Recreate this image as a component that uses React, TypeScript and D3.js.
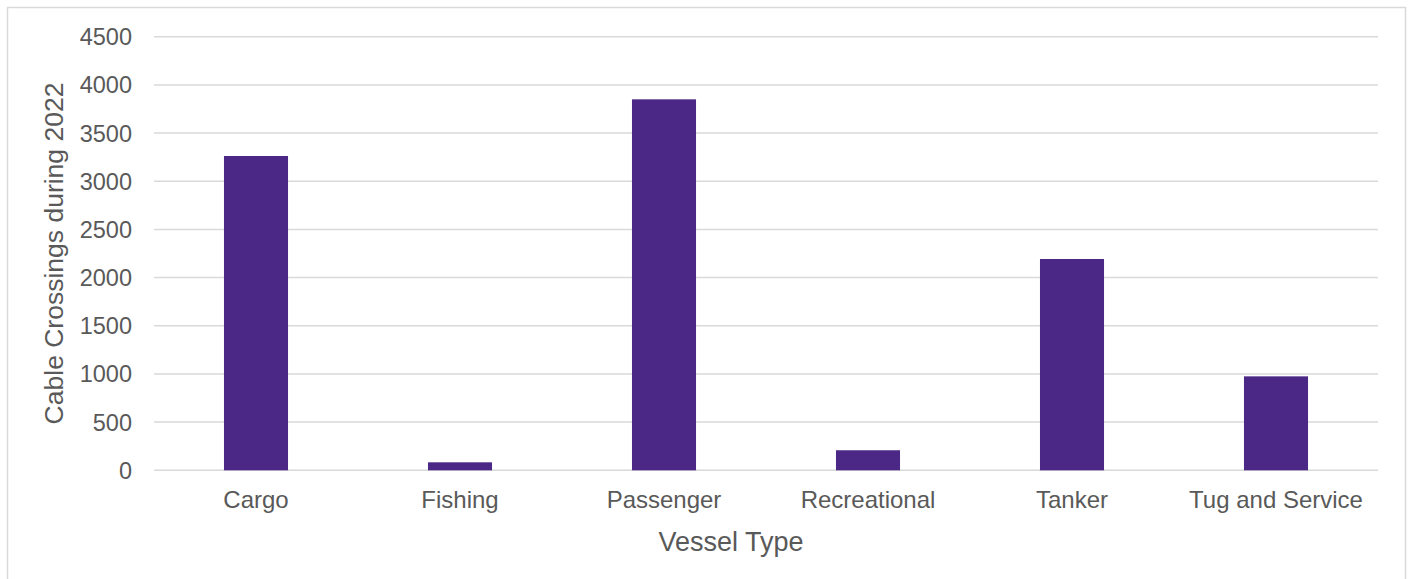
import React from "react";
import * as d3 from "d3";

// Cable crossings by vessel type, 2022
const categories = ["Cargo", "Fishing", "Passenger", "Recreational", "Tanker", "Tug and Service"];
const crossings = [3262, 83, 3850, 208, 2193, 975];
const yTicks = [0, 500, 1000, 1500, 2000, 2500, 3000, 3500, 4000, 4500];

const W = 1410;
const H = 579;
const plot = { left: 154, right: 1378, top: 36.7, bottom: 470.3 };
const barColor = "#4B2885";
const textColor = "#595959";
const gridColor = "#D9D9D9";
const font = "'Liberation Sans', Arial, sans-serif";

export default function App() {
  const x = d3.scaleBand<string>().domain(categories).range([plot.left, plot.right]).padding(0);
  const y = d3.scaleLinear().domain([0, 4500]).range([plot.bottom, plot.top]);
  const barW = x.bandwidth() * 0.314;

  return (
    <svg
      width={W}
      height={H}
      viewBox={`0 0 ${W} ${H}`}
      style={{ position: "absolute", left: 0, top: 0, background: "#fff" }}
    >
      <rect x={0} y={0} width={W} height={H} fill="#fff" />
      <rect x={7.5} y={7.5} width={1398} height={620} fill="none" stroke={gridColor} strokeWidth={1.5} />

      {yTicks.map((t) => (
        <g key={t}>
          <line x1={plot.left} x2={plot.right} y1={y(t)} y2={y(t)} stroke={gridColor} strokeWidth={1.5} />
          <text
            x={132}
            y={y(t)}
            dy="0.36em"
            textAnchor="end"
            fontFamily={font}
            fontSize={23.5}
            fill={textColor}
          >
            {t}
          </text>
        </g>
      ))}

      {categories.map((c, i) => {
        const cx = (x(c) as number) + x.bandwidth() / 2;
        return (
          <g key={c}>
            <rect
              x={cx - barW / 2}
              y={y(crossings[i])}
              width={barW}
              height={y(0) - y(crossings[i])}
              fill={barColor}
            />
            <text x={cx} y={507.5} textAnchor="middle" fontFamily={font} fontSize={24} fill={textColor}>
              {c}
            </text>
          </g>
        );
      })}

      <text x={731} y={551} textAnchor="middle" fontFamily={font} fontSize={27} fill={textColor}>
        Vessel Type
      </text>
      <text
        transform={`translate(63, ${(plot.top + plot.bottom) / 2}) rotate(-90)`}
        textAnchor="middle"
        fontFamily={font}
        fontSize={26.5}
        fill={textColor}
      >
        Cable Crossings during 2022
      </text>
    </svg>
  );
}
